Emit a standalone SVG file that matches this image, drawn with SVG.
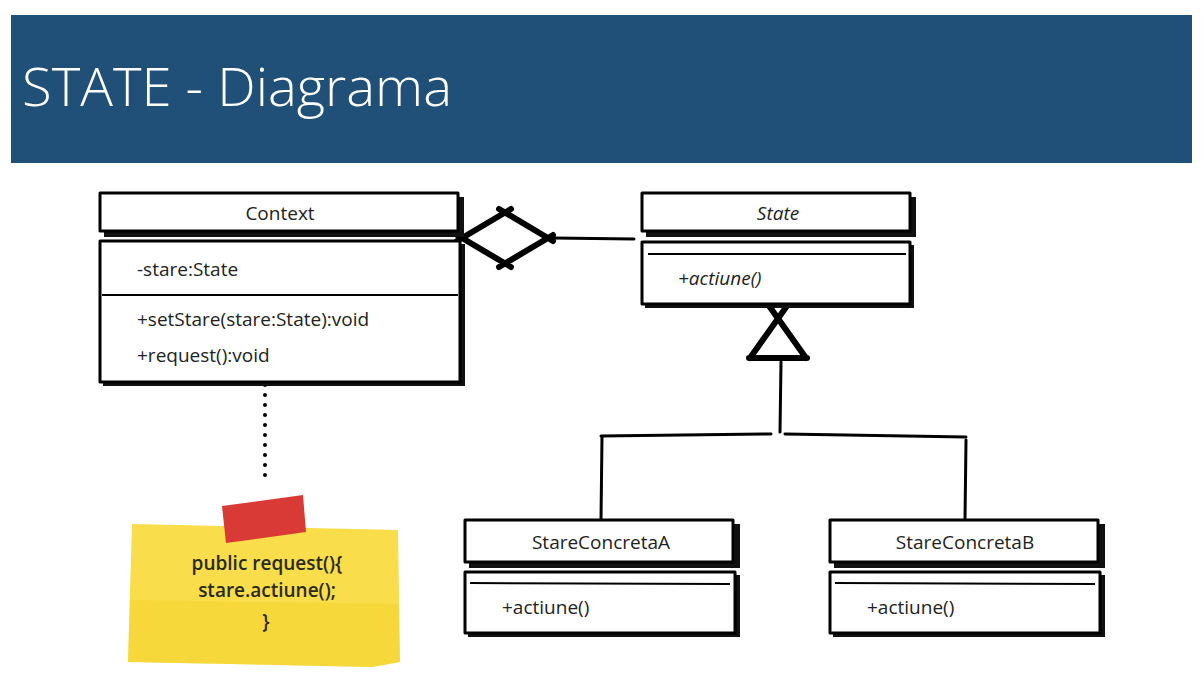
<svg xmlns="http://www.w3.org/2000/svg" width="1204" height="686" viewBox="0 0 1204 686">
<style>
.box{fill:#fff;stroke:#000;stroke-width:3;stroke-linejoin:round}
.shadow{fill:#111}
.sep{stroke:#000;stroke-width:2}
.t{font-family:"Open Sans","Liberation Sans",sans-serif;font-size:19px;fill:#222}
.ti{font-style:italic}
.c{text-anchor:middle}
.ln{fill:none;stroke:#000;stroke-width:3;stroke-linecap:round;stroke-linejoin:round}
.thick{fill:none;stroke:#000;stroke-width:6;stroke-linecap:round}
</style>
<rect width="1204" height="686" fill="#fff"/>
<g id="header">
<rect x="11" y="15" width="1181" height="148" fill="#204f78"/>
<text x="22" y="106" font-family="'Open Sans','Liberation Sans',sans-serif" font-weight="300" font-size="54" fill="#fff" textLength="430" lengthAdjust="spacingAndGlyphs">STATE - Diagrama</text>
</g>
<g id="connectors">
<path class="thick" d="M457 241 L511 209 M499 209 L553 241 M553 235 L499 267 M511 267 L457 235"/>
<path class="ln" d="M553 238 L634 239"/>
<path class="thick" d="M750 358 L789 303 M806 358 L767 303 M749 358 L807 358"/>
<path class="ln" d="M781 362 L780 432"/>
<path class="ln" d="M601 436 L771 434 M785 434 L966 437"/>
<path class="ln" d="M602 437 L601 520 M966 440 L965 520"/>
<path fill="none" stroke="#000" stroke-width="4" stroke-linecap="round" stroke-dasharray="0 10" d="M265 385 L265 482"/>
</g>
<g id="context">
<rect class="shadow" x="104" y="197" width="360" height="40"/>
<rect class="box" x="100" y="193" width="358" height="38"/>
<text class="t c" x="280" y="220">Context</text>
<rect class="shadow" x="103" y="244" width="362" height="142"/>
<rect class="box" x="100" y="241" width="360" height="141"/>
<line class="sep" x1="102" y1="295" x2="458" y2="295"/>
<text class="t" x="137" y="276">-stare:State</text>
<text class="t" x="137" y="326">+setStare(stare:State):void</text>
<text class="t" x="137" y="362">+request():void</text>
</g>
<g id="state">
<rect class="shadow" x="646" y="197" width="270" height="40"/>
<rect class="box" x="642" y="193" width="268" height="38"/>
<text class="t ti c" x="778" y="220">State</text>
<rect class="shadow" x="645" y="245" width="269" height="63"/>
<rect class="box" x="642" y="242" width="268" height="62"/>
<line class="sep" x1="648" y1="254" x2="906" y2="254"/>
<text class="t ti" x="678" y="285">+actiune()</text>
</g>
<g id="stareA">
<rect class="shadow" x="469" y="524" width="271" height="44"/>
<rect class="box" x="465" y="520" width="268" height="42"/>
<text class="t c" x="601" y="549">StareConcretaA</text>
<rect class="shadow" x="468" y="575" width="272" height="62"/>
<rect class="box" x="465" y="572" width="270" height="61"/>
<line class="sep" x1="470" y1="583" x2="730" y2="584"/>
<text class="t" x="502" y="614">+actiune()</text>
</g>
<g id="stareB">
<rect class="shadow" x="834" y="524" width="271" height="44"/>
<rect class="box" x="830" y="520" width="268" height="42"/>
<text class="t c" x="965" y="549">StareConcretaB</text>
<rect class="shadow" x="833" y="575" width="272" height="62"/>
<rect class="box" x="830" y="572" width="270" height="61"/>
<line class="sep" x1="835" y1="583" x2="1095" y2="584"/>
<text class="t" x="867" y="614">+actiune()</text>
</g>
<g id="note">
<path d="M132 524 L398 530 L400 662 L372 667 L128 662 Z" fill="#f9dd4a"/>
<path d="M130 600 L398 604 L400 662 L372 667 L128 662 Z" fill="#f5d531" opacity="0.6"/>
<path d="M222 506 L303 495 L306 532 L226 543 Z" fill="#d93a36"/>
<text class="t c" x="267" y="570" style="fill:#2a2a1a;font-weight:600">public request(){</text>
<text class="t c" x="267" y="597" style="fill:#2a2a1a;font-weight:600">stare.actiune();</text>
<text class="t c" x="266" y="628" style="fill:#2a2a1a;font-weight:600">}</text>
</g>
</svg>
